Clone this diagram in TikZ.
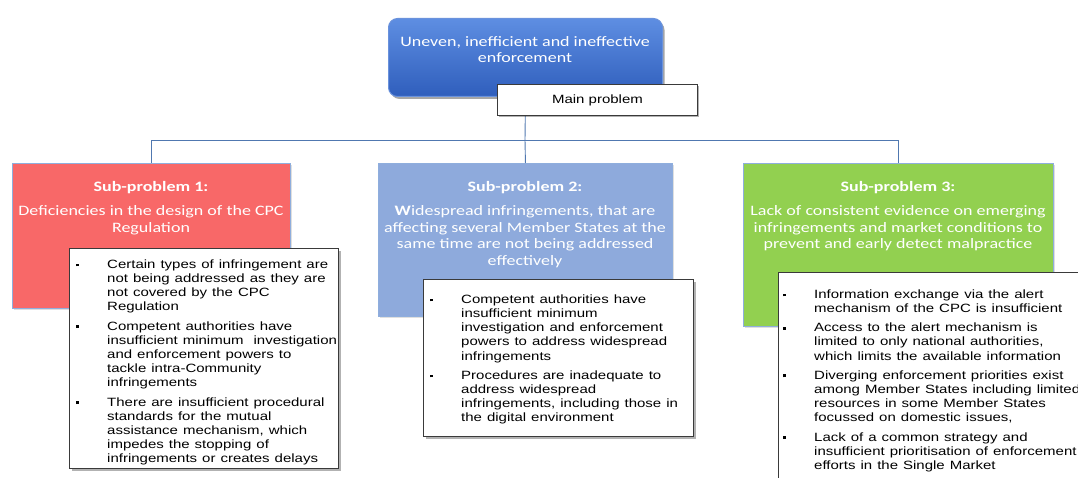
\documentclass[tikz,border=0pt]{standalone}
\usepackage{fontspec}
\setmainfont{Carlito}
\newfontfamily\arialfont{Liberation Sans}
\usetikzlibrary{shadows}

\definecolor{maintop}{HTML}{5E8EE2}
\definecolor{mainbot}{HTML}{2F5EBC}
\definecolor{mainedge}{HTML}{6A92DC}
\definecolor{redfill}{HTML}{F86868}
\definecolor{bluefill}{HTML}{8EAADC}
\definecolor{greenfill}{HTML}{92D050}
\definecolor{subedge}{HTML}{8FAEDD}
\definecolor{connblue}{HTML}{5078B0}
\definecolor{boxedge}{HTML}{3A3A3A}

% bullet item with hanging indent
\newcommand\bitem{\par\noindent\hangindent=33pt\hangafter=1%
  \makebox[33pt][l]{\hspace{1.5pt}\rule[2.4pt]{3.5pt}{3.6pt}}\ignorespaces}
\newcommand\bgap{\par\vspace{6.2pt}}

\begin{document}
\begin{tikzpicture}[x=1pt,y=-1pt,
  squish/.style={yscale=0.8},
  boxbase/.style={rectangle, inner sep=0pt, anchor=north west},
  mainbox/.style={boxbase, rounded corners=9pt, top color=maintop, bottom color=mainbot,
    draw=mainedge, line width=1pt,
    drop shadow={shadow xshift=2pt, shadow yshift=-2.5pt, opacity=0.35, fill=black}},
  labelbox/.style={boxbase, fill=white, draw=boxedge, line width=0.9pt,
    drop shadow={shadow xshift=2pt, shadow yshift=-2pt, opacity=0.3, fill=black}},
  subbox/.style={boxbase, draw=subedge, line width=0.9pt,
    drop shadow={shadow xshift=1.5pt, shadow yshift=-1.5pt, opacity=0.25, fill=gray}},
  listbox/.style={boxbase, fill=white, draw=boxedge, line width=0.9pt,
    drop shadow={shadow xshift=2.5pt, shadow yshift=-2.5pt, opacity=0.3, fill=black}},
  subtext/.style={squish, text=white, align=center, inner sep=0pt, anchor=north,
    font=\fontsize{18}{21}\selectfont},
  listtext/.style={squish, inner sep=0pt, anchor=north west, text=black,
    font=\arialfont\fontsize{15}{17.75}\selectfont},
  conn/.style={draw=connblue, line width=0.9pt}]

\useasboundingbox (0,0) rectangle (1078,478);
\clip (0,0) rectangle (1078,478);
\fill[white] (0,0) rectangle (1078,478);

% main problem
\node[mainbox, minimum width=274pt, minimum height=78pt] (main) at (388,18) {};
\node[squish, text=white, align=center, inner sep=0pt, font=\fontsize{18}{20}\selectfont]
  (maintext) at (525,50) {Uneven, inefficient and ineffective\\enforcement};

% sub-problem boxes
\node[subbox, fill=redfill, minimum width=278pt, minimum height=145pt] (s1) at (12,163) {};
\node[subbox, fill=bluefill, minimum width=294pt, minimum height=153pt] (s2) at (378,163) {};
\node[subbox, fill=greenfill, minimum width=310pt, minimum height=163pt] (s3) at (743,163) {};

% tree connectors
\coordinate (hub) at (525,140);
\draw[conn] (main.south) -- (hub);
\draw[conn] (hub) -| (s1.north);
\draw[conn] (hub) -- (s2.north);
\draw[conn] (hub) -| (s3.north);

\node[labelbox, minimum width=200pt, minimum height=31pt] (mp) at (497,84) {};
\node[squish, inner sep=0pt, font=\arialfont\fontsize{15}{18}\selectfont] (mptext) at (mp.center) {Main problem};

\node[subtext] (s1t) at (151,181) {\textbf{Sub-problem 1:}\\[9pt]Deficiencies in the design of the CPC\\Regulation};
\node[subtext] (s2t) at (525,181) {\textbf{Sub-problem 2:}\\[9pt]\textbf{W}idespread infringements, that are\\affecting several Member States at the\\same time are not being addressed\\effectively};
\node[subtext] (s3t) at (898,181) {\textbf{Sub-problem 3:}\\[9pt]Lack of consistent evidence on emerging\\infringements and market conditions to\\prevent and early detect malpractice};

% detail lists
\node[listbox, minimum width=269pt, minimum height=220pt] (b1) at (69,248) {};
\node[listbox, minimum width=270pt, minimum height=157pt] (b2) at (423,279) {};
\node[listbox, minimum width=320pt, minimum height=230pt] (b3) at (778,272) {};

\node[listtext, text width=264pt] (b1t) at (74,254) {%
\bitem Certain types of infringement are\newline not being addressed as they are\newline not covered by the CPC\newline Regulation\bgap
\bitem Competent authorities have\newline insufficient minimum\ \ investigation\newline and enforcement powers to\newline tackle intra-Community\newline infringements\bgap
\bitem There are insufficient procedural\newline standards for the mutual\newline assistance mechanism, which\newline impedes the stopping of\newline infringements or creates delays\par};

\node[listtext, text width=265pt] (b2t) at (428,289) {%
\bitem Competent authorities have\newline insufficient minimum\newline investigation and enforcement\newline powers to address widespread\newline infringements\bgap
\bitem Procedures are inadequate to\newline address widespread\newline infringements, including those in\newline the digital environment\par};

\node[listtext, text width=310pt] (b3t) at (781,284) {%
\bitem Information exchange via the alert\newline mechanism of the CPC is insufficient\bgap
\bitem Access to the alert mechanism is\newline limited to only national authorities,\newline which limits the available information\bgap
\bitem Diverging enforcement priorities exist\newline among Member States including limited\newline resources in some Member States\newline focussed on domestic issues,\bgap
\bitem Lack of a common strategy and\newline insufficient prioritisation of enforcement\newline efforts in the Single Market\par};

\end{tikzpicture}
\end{document}
